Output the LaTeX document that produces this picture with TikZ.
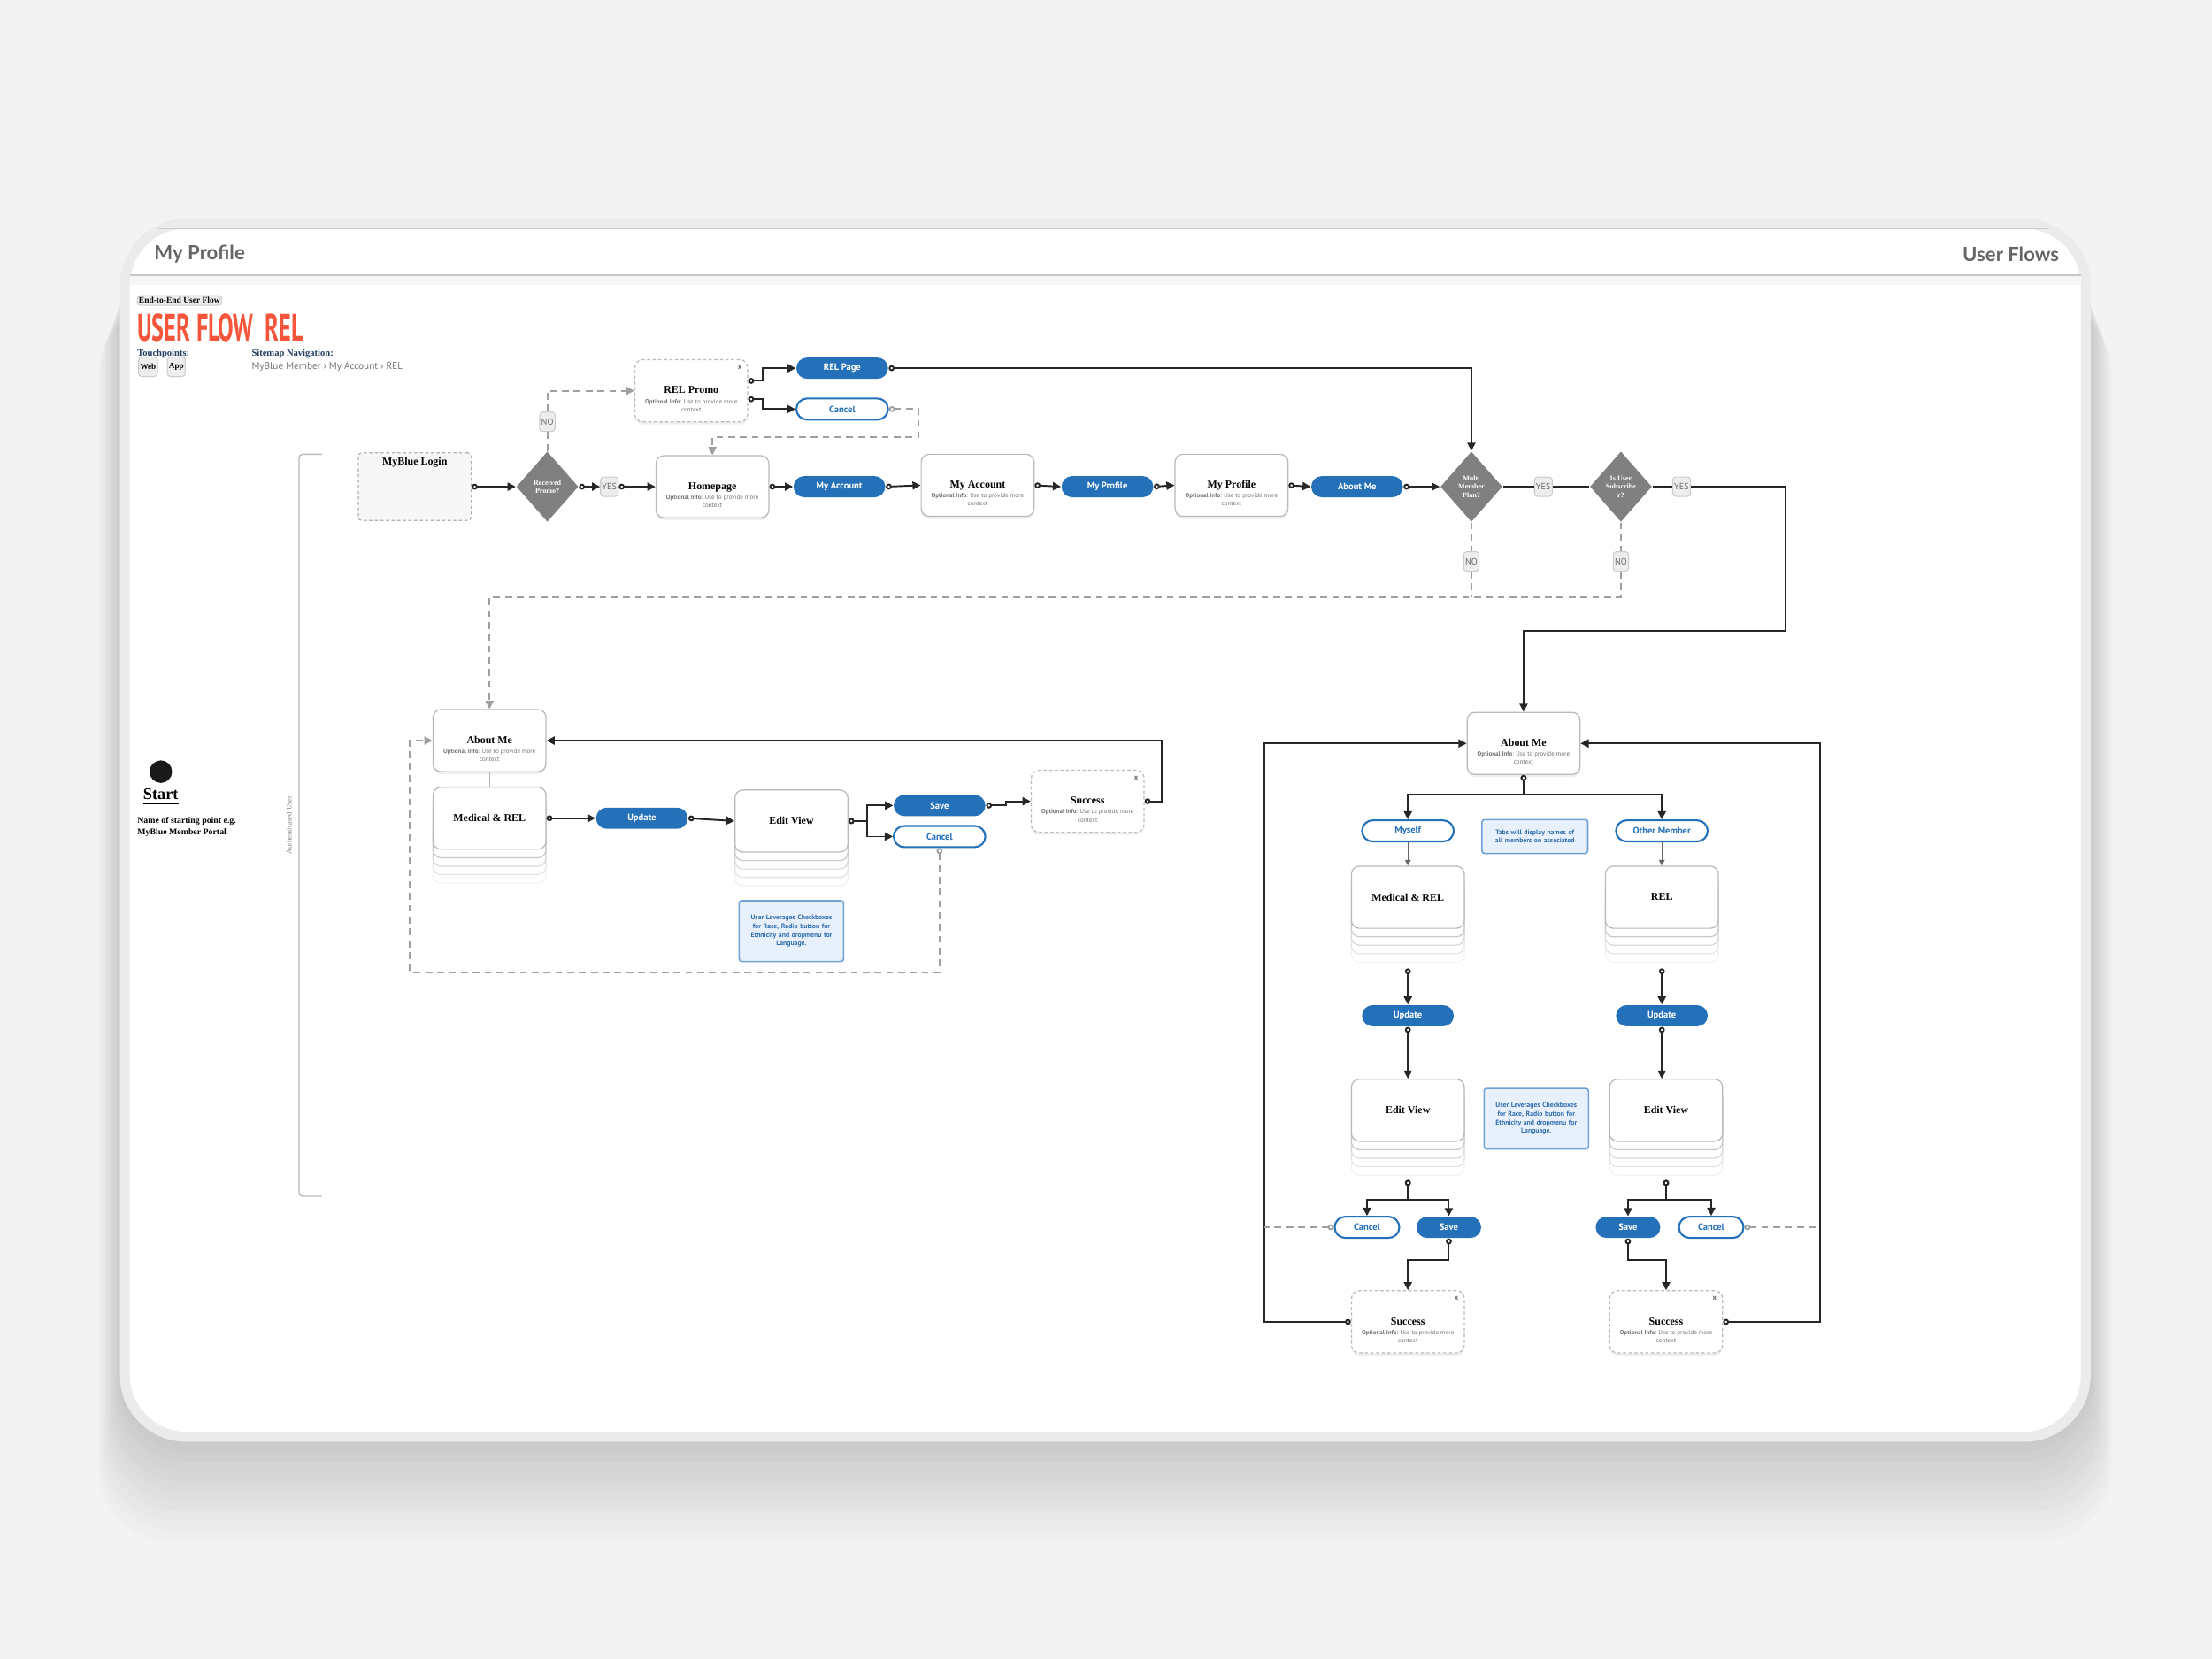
\documentclass[tikz,border=0pt]{standalone}
\usepackage{fontspec}
\usepackage{graphicx}
\setmainfont{Liberation Serif}
\newfontfamily\uisans{PT Sans}
\newfontfamily\hdsans{Lato}
\usetikzlibrary{arrows.meta,shapes.geometric,shapes.misc,shadows,positioning,calc}

\definecolor{pillblue}{HTML}{2471BA}
\definecolor{notefill}{HTML}{E8F1FB}
\definecolor{noteline}{HTML}{6FA3D8}
\definecolor{notetext}{HTML}{2C6CB0}
\definecolor{flowred}{HTML}{F5553A}
\definecolor{navy}{HTML}{1F3A5F}
\definecolor{hdgray}{HTML}{666666}
\definecolor{dgray}{HTML}{808080}
\definecolor{bgray}{HTML}{F3F3F4}
\definecolor{band}{HTML}{EBEBEB}

\newcommand{\ttlfont}{\fontsize{3.4}{4}\selectfont\bfseries}
\newcommand{\inffont}{\uisans\fontsize{2}{2.5}\selectfont\color{gray!90!black}}
\newcommand{\scrtxt}[1]{{\ttlfont\rule{0pt}{7.6pt}#1}\\[0.6pt]{\inffont\textbf{Optional Info}: Use to provide more}\\{\inffont context}}

\begin{document}
\begin{tikzpicture}[
  x=0.15944mm, y=-0.15944mm,
  box/.style={rectangle, rounded corners=0.9mm, draw=gray!55, fill=white, line width=0.35pt,
    minimum width=12.76mm, minimum height=7.02mm, inner sep=0pt, align=center,
    font=\fontsize{2}{2.6}\selectfont},
  screen/.style={box, drop shadow={shadow xshift=0pt, shadow yshift=-0.3mm, opacity=0.12}},
  modal/.style={screen, dash pattern=on 1pt off 0.8pt},
  stack/.style={box, font=\ttlfont,
    general shadow={shadow yshift=-3.83mm, fill=white, draw=gray!10},
    general shadow={shadow yshift=-2.87mm, fill=white, draw=gray!20},
    general shadow={shadow yshift=-1.91mm, fill=white, draw=gray!30},
    general shadow={shadow yshift=-0.96mm, fill=white, draw=gray!42}},
  pill/.style={rounded rectangle, fill=pillblue, text=white, inner sep=0pt,
    font=\uisans\bfseries\fontsize{3}{3.2}\selectfont, minimum width=10.36mm, minimum height=2.39mm},
  pillout/.style={pill, fill=white, draw=pillblue, line width=0.6pt, text=pillblue},
  pillsm/.style={pill, minimum width=7.3mm},
  pillsmout/.style={pillout, minimum width=7.3mm},
  decision/.style={diamond, fill=dgray, text=white, inner sep=0pt, align=center,
    minimum width=7.02mm, minimum height=7.97mm, font=\fontsize{2.3}{2.7}\selectfont\bfseries},
  tag/.style={rectangle, rounded corners=0.35mm, fill=gray!14, draw=gray!40, line width=0.3pt,
    text=gray!85!black, font=\uisans\fontsize{2.9}{3.2}\selectfont, minimum width=1.7mm,
    minimum height=2.2mm, inner sep=0.5pt},
  note/.style={rectangle, rounded corners=0.3mm, fill=notefill, draw=noteline, line width=0.45pt,
    text=notetext, font=\uisans\bfseries\fontsize{2.2}{2.75}\selectfont, minimum width=11.8mm,
    minimum height=6.86mm, text width=10.9mm, align=center, inner sep=0pt},
  flow/.style={line width=0.55pt, black!85,
    {Circle[fill=white, length=1.9pt, width=1.9pt]}-{Triangle[length=2.6pt, width=2.6pt]}},
  flowend/.style={line width=0.55pt, black!85, -{Triangle[length=2.6pt, width=2.6pt]}},
  plain/.style={line width=0.55pt, black!85},
  dashline/.style={line width=0.5pt, gray!75, dash pattern=on 2.2pt off 1.6pt},
  dashend/.style={dashline, -{Triangle[length=2.6pt, width=2.6pt]}},
  dashstart/.style={dashline, {Circle[fill=white, length=1.9pt, width=1.9pt]}-{Triangle[length=2.6pt, width=2.6pt]}},
  dashcirc/.style={dashline, {Circle[fill=white, length=1.9pt, width=1.9pt]}-},
  thinarrow/.style={line width=0.35pt, gray!80!black, -{Triangle[length=1.8pt, width=1.8pt]}},
  xmark/.style={font=\uisans\bfseries\fontsize{2.4}{3}\selectfont, text=gray!80!black, inner sep=0pt}
]
  \useasboundingbox (0,0) rectangle (1568,1176);

  % Fondo y marco
  \fill[bgray] (0,0) rectangle (1568,1176);
  \foreach \i in {1,...,10}
    \fill[black, opacity=0.014, rounded corners=8mm] (85-1.5*\i,175+4*\i) rectangle (1482+1.5*\i,1022+7*\i);
  \fill[band, rounded corners=7.5mm] (85,155) rectangle (1482,1022);
  \fill[white, rounded corners=6.5mm] (92,162) rectangle (1475,1015);
  \draw[gray!40, line width=0.4pt] (112,162) -- (1452,162);
  \fill[gray!7] (92,195) rectangle (1475,202);
  \draw[gray!45, line width=0.4pt] (92,195) -- (1475,195);

  % Cabecera
  \node[anchor=west, inner sep=0pt, text=hdgray, font=\hdsans\bfseries\fontsize{6.3}{7}\selectfont] (hdleft) at (109,180) {My Profile};
  \node[anchor=east, inner sep=0pt, text=hdgray, font=\hdsans\bfseries\fontsize{6.3}{7}\selectfont] (hdright) at (1460,180) {User Flows};
  \node[tag, anchor=west, text=black, font=\fontsize{2.7}{3}\selectfont\bfseries, minimum height=1.1mm, inner sep=0.5pt] (e2e) at (97,213) {End-to-End User Flow};
  \node[anchor=west, inner sep=0pt, text=flowred] (flowtitle) at (97,232)
    {\scalebox{0.61}[1]{\uisans\bfseries\fontsize{12.3}{13}\selectfont USER FLOW\ \ REL}};
  \node[anchor=west, inner sep=0pt, text=navy, font=\fontsize{3}{3.5}\selectfont\bfseries] (touch) at (97,251) {Touchpoints:};
  \node[anchor=west, inner sep=0pt, text=navy, font=\fontsize{3}{3.5}\selectfont\bfseries] (sitemap) at (178,251) {Sitemap Navigation:};
  \node[tag, text=black, font=\fontsize{2.6}{3}\selectfont\bfseries] (web) at (105,260) {Web};
  \node[tag, text=black, font=\fontsize{2.6}{3}\selectfont\bfseries] (app) at (125,260) {App};
  \node[anchor=west, inner sep=0pt, text=gray!90!black, font=\uisans\fontsize{3.2}{3.6}\selectfont] (sitepath) at (178,260) {MyBlue Member › My Account › REL};

  % Inicio
  \node[circle, fill=black!90, minimum size=2.55mm, inner sep=0pt] (startdot) at (114,547) {};
  \node[inner sep=0pt, font=\fontsize{5.2}{6}\selectfont\bfseries] (startlbl) at (114,565) {\underline{Start}};
  \node[anchor=north west, align=left, inner sep=0pt, font=\fontsize{2.8}{3.5}\selectfont\bfseries] (startnote) at (97,579) {Name of starting point e.g.\\MyBlue Member Portal};
  \draw[gray!55, line width=0.4pt, rounded corners=0.4mm] (228,322) -- (212,322) -- (212,848) -- (228,848);
  \node[rotate=90, inner sep=0pt, text=gray, font=\fontsize{2.4}{3}\selectfont] (authlbl) at (205,585) {Authenticated User};

  % Fila superior
  \node[rectangle, rounded corners=0.4mm, draw=gray!60, fill=gray!6, dash pattern=on 1pt off 0.8pt, line width=0.35pt,
    minimum width=12.76mm, minimum height=7.65mm] (login) at (294,345) {};
  \draw[gray!60, line width=0.35pt, dash pattern=on 1pt off 0.8pt] ($(login.north west)+(5,0)$) -- ($(login.south west)+(5,0)$);
  \draw[gray!60, line width=0.35pt, dash pattern=on 1pt off 0.8pt] ($(login.north east)+(-5,0)$) -- ($(login.south east)+(-5,0)$);
  \node[inner sep=0pt, font=\ttlfont] (logintitle) at ($(login.north)+(0,7)$) {MyBlue Login};

  \node[decision] (dPromo) at (388,345) {Received\\Promo?};
  \node[tag] (yes1) at (432,345) {YES};
  \node[tag] (no1) at (388,299) {NO};
  \node[modal] (promo) at (490,277) {\scrtxt{REL Promo}};
  \node[xmark] (promox) at ($(promo.north east)+(-6,6)$) {x};
  \node[pill] (relpage) at (597,261) {REL Page};
  \node[pillout] (cancelT) at (597,290) {Cancel};
  \node[screen] (home) at (505,345) {\scrtxt{Homepage}};
  \node[pill] (pAcct) at (595,345) {My Account};
  \node[screen] (acct) at (693,344) {\scrtxt{My Account}};
  \node[pill] (pProf) at (785,345) {My Profile};
  \node[screen] (prof) at (873,344) {\scrtxt{My Profile}};
  \node[pill] (pAbout) at (962,345) {About Me};
  \node[decision] (dMulti) at (1043,345) {Multi\\Member\\Plan?};
  \node[tag] (yes2) at (1094,345) {YES};
  \node[decision] (dSub) at (1149,345) {Is User\\Subscribe\\r?};
  \node[tag] (yes3) at (1192,345) {YES};
  \node[tag] (no2) at (1043,398) {NO};
  \node[tag] (no3) at (1149,398) {NO};

  \draw[flow] (login.east) -- (dPromo.west);
  \draw[flow] (dPromo.east) -- (yes1.west);
  \draw[flow] (yes1.east) -- (home.west);
  \draw[dashline] (dPromo.north) -- (no1.south);
  \draw[dashend] (no1.north) |- (promo.west);
  \draw[flow] ($(promo.east)+(0,-7)$) -- ++(10,0) |- (relpage.west);
  \draw[flow] ($(promo.east)+(0,6)$) -- ++(10,0) |- (cancelT.west);
  \draw[dashstart] (cancelT.east) -- ++(21,0) -- ++(0,20) -| (home.north);
  \draw[flow] (relpage.east) -| (dMulti.north);
  \draw[flow] (home.east) -- (pAcct.west);
  \draw[flow] (pAcct.east) -- (acct.west);
  \draw[flow] (acct.east) -- (pProf.west);
  \draw[flow] (pProf.east) -- (prof.west);
  \draw[flow] (prof.east) -- (pAbout.west);
  \draw[flow] (pAbout.east) -- (dMulti.west);
  \draw[plain] (dMulti.east) -- (yes2.west);
  \draw[plain] (yes2.east) -- (dSub.west);
  \draw[plain] (dSub.east) -- (yes3.west);
  \draw[dashline] (dMulti.south) -- (no2.north);
  \draw[dashline] (dSub.south) -- (no3.north);
  \draw[dashline] (no2.south) -- ++(0,18);

  % Flujo izquierdo (un miembro)
  \node[screen] (aboutL) at (347,525) {\scrtxt{About Me}};
  \node[stack] (medL) at (347,580) {Medical \& REL};
  \node[pill] (updL) at (455,580) {Update};
  \node[stack] (editL) at (561,582) {Edit View};
  \node[pill] (saveL) at (666,571) {Save};
  \node[pillout] (cancelL) at (666,593) {Cancel};
  \node[modal] (successL) at (771,568) {\scrtxt{Success}};
  \node[xmark] (successLx) at ($(successL.north east)+(-6,6)$) {x};
  \node[note] (noteL) at (561,660) {User Leverages Checkboxes\\for Race, Radio button for\\Ethnicity and dropmenu for\\Language.};

  \draw[dashend] (no3.south) -- ++(0,18) -| (aboutL.north);
  \draw[gray!60, line width=0.4pt] (aboutL.south) -- (medL.north);
  \draw[flow] (medL.east) -- (updL.west);
  \draw[flow] (updL.east) -- (editL.west);
  \draw[flow] (editL.east) -- ++(13,0) |- (saveL.west);
  \draw[flow] (editL.east) -- ++(13,0) |- (cancelL.west);
  \draw[flow] (saveL.east) -- ++(14,0) |- (successL.west);
  \draw[flow] (successL.east) -- ++(12,0) |- (aboutL.east);
  \draw[dashstart] (cancelL.south) -- ++(0,88) -| ($(aboutL.west)+(-16,0)$) -- (aboutL.west);

  % Flujo derecho (varios miembros)
  \node[screen] (aboutR) at (1080,527) {\scrtxt{About Me}};
  \node[pillout] (myself) at (998,589) {Myself};
  \node[note, minimum width=11.96mm, minimum height=3.83mm, text width=11.5mm] (noteTabs) at (1088,593) {Tabs will display names of\\all members on associated};
  \node[pillout] (other) at (1178,589) {Other Member};
  \node[stack] (medM) at (998,636) {Medical \& REL};
  \node[stack] (relO) at (1178,636) {REL};
  \node[pill] (updM) at (998,720) {Update};
  \node[pill] (updO) at (1178,720) {Update};
  \node[stack] (editM) at (998,787) {Edit View};
  \node[stack] (editO) at (1181,787) {Edit View};
  \node[note] (noteEdit) at (1089,793) {User Leverages Checkboxes\\for Race, Radio button for\\Ethnicity and dropmenu for\\Language.};
  \node[pillsmout] (cancelM) at (969,870) {Cancel};
  \node[pillsm] (saveM) at (1027,870) {Save};
  \node[pillsm] (saveO) at (1154,870) {Save};
  \node[pillsmout] (cancelO) at (1213,870) {Cancel};
  \node[modal] (successM) at (998,937) {\scrtxt{Success}};
  \node[xmark] (successMx) at ($(successM.north east)+(-6,6)$) {x};
  \node[modal] (successO) at (1181,937) {\scrtxt{Success}};
  \node[xmark] (successOx) at ($(successO.north east)+(-6,6)$) {x};
  \coordinate (loopML) at (896,937);
  \coordinate (loopOR) at (1290,937);

  \draw[flowend] (yes3.east) -| ++(67,102) -| (aboutR.north);
  \draw[flow] (aboutR.south) -- ++(0,14) -| (myself.north);
  \draw[flow] (aboutR.south) -- ++(0,14) -| (other.north);
  \draw[thinarrow] (myself.south) -- (medM.north);
  \draw[thinarrow] (other.south) -- (relO.north);
  \draw[flow] ($(medM.south)+(0,28)$) -- (updM.north);
  \draw[flow] ($(relO.south)+(0,28)$) -- (updO.north);
  \draw[flow] (updM.south) -- (editM.north);
  \draw[flow] (updO.south) -- (updO.south |- editO.north);
  \draw[flow] ($(editM.south)+(0,27)$) -- ++(0,14) -| (cancelM.north);
  \draw[flow] ($(editM.south)+(0,27)$) -- ++(0,14) -| (saveM.north);
  \draw[flow] ($(editO.south)+(0,27)$) -- ++(0,14) -| (saveO.north);
  \draw[flow] ($(editO.south)+(0,27)$) -- ++(0,14) -| (cancelO.north);
  \draw[flow] (saveM.south) -- ++(0,15) -| (successM.north);
  \draw[flow] (saveO.south) -- ++(0,15) -| (successO.north);
  \draw[flow] (successM.west) -- (loopML) |- (aboutR.west);
  \draw[flow] (successO.east) -- (loopOR) |- (aboutR.east);
  \draw[dashcirc] (cancelM.west) -- (cancelM.west -| loopML);
  \draw[dashcirc] (cancelO.east) -- (cancelO.east -| loopOR);
\end{tikzpicture}
\end{document}
